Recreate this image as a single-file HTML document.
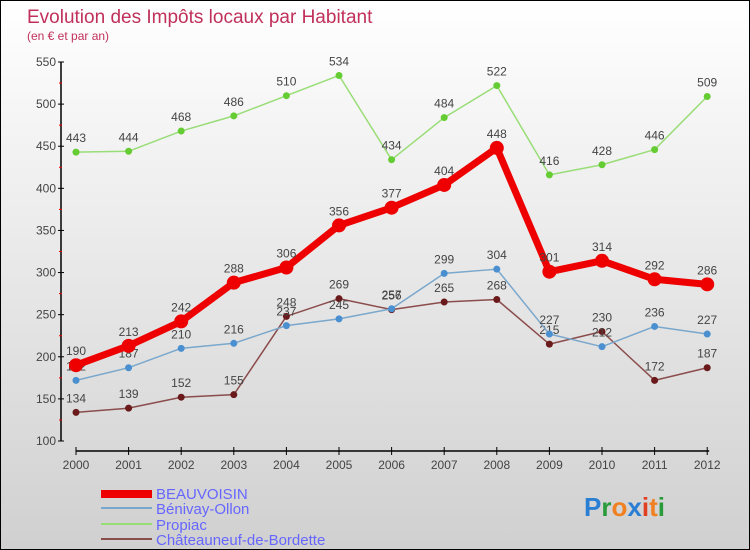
<!DOCTYPE html>
<html><head><meta charset="utf-8"><style>
body{margin:0}
#c{width:748px;height:548px;border:1px solid #000;background:linear-gradient(#fff,#d0d0d0);position:relative;font-family:"Liberation Sans",sans-serif;overflow:hidden}
</style></head><body>
<div id="c">
<svg id="s" width="748" height="548">
<text x="26" y="22" font-size="19" fill="#c0305a">Evolution des Impôts locaux par Habitant</text>
<text x="26" y="39" font-size="12" fill="#c0305a">(en € et par an)</text>
<g id="ax"></g><g id="ser"></g>
<g>
<rect x="100" y="489" width="51" height="8" fill="#e00"/>
<text x="155" y="498" font-size="15" fill="#6666ff">BEAUVOISIN</text>
<rect x="100" y="506" width="51" height="2" fill="#7aa7cc"/>
<text x="155" y="513" font-size="15" fill="#6666ff">Bénivay-Ollon</text>
<rect x="100" y="522" width="51" height="2" fill="#99dd77"/>
<text x="155" y="529" font-size="15" fill="#6666ff">Propiac</text>
<rect x="100" y="537" width="51" height="2" fill="#8b4c4c"/>
<text x="155" y="544" font-size="15" fill="#6666ff">Châteauneuf-de-Bordette</text>
</g>
<text x="583" y="515" font-size="26" font-weight="bold"><tspan fill="#2a7fd4">P</tspan><tspan fill="#2a9a3a">r</tspan><tspan fill="#f08020">o</tspan><tspan fill="#2a7fd4">x</tspan><tspan fill="#e04020">i</tspan><tspan fill="#f08020">t</tspan><tspan fill="#2a9a3a">i</tspan></text>
</svg></div>
<script>
const years=["2000","2001","2002","2003","2004","2005","2006","2007","2008","2009","2010","2011","2012"];
const yTicks=[100,150,200,250,300,350,400,450,500,550];
const beauvoisin=[190,213,242,288,306,356,377,404,448,301,314,292,286];
const benivay=[172,187,210,216,237,245,257,299,304,227,212,236,227];
const propiac=[443,444,468,486,510,534,434,484,522,416,428,446,509];
const chateau=[134,139,152,155,248,269,256,265,268,215,230,172,187];
const NS="http://www.w3.org/2000/svg";
function X(i){return 75+i*52.6;}
function Y(v){return 440-(v-100)*(379/450);}
function mk(t,a,p){const e=document.createElementNS(NS,t);for(const k in a)e.setAttribute(k,a[k]);p.appendChild(e);return e;}
const ax=document.getElementById('ax'),ser=document.getElementById('ser');
const yl=mk('line',{x1:60,y1:Y(550),x2:60,y2:Y(100),stroke:'#000','stroke-width':1.5},ax);


yTicks.forEach((v,i)=>{
 mk('line',{x1:57,y1:Y(v),x2:63,y2:Y(v),stroke:'#000'},ax);
 if(i<yTicks.length-1) mk('line',{x1:58,y1:Y(v+25),x2:61,y2:Y(v+25),stroke:'#e00'},ax);
 const t=mk('text',{x:55,y:Y(v)+4,'font-size':12,fill:'#444','text-anchor':'end'},ax);t.textContent=v;
 
 
});
const xl=mk('line',{x1:X(0),y1:450,x2:X(12)+2,y2:450,stroke:'#000','stroke-width':1.5},ax);


years.forEach((y,i)=>{
 mk('line',{x1:X(i),y1:446,x2:X(i),y2:454,stroke:'#000'},ax);
 const t=mk('text',{x:X(i),y:468,'font-size':12,fill:'#444','text-anchor':'middle'},ax);t.textContent=y;
 
 
});
function series(data,name,col,dot,w,r,lab){
 const g=mk('g',{},ser);
 
 
 mk('polyline',{points:data.map((v,i)=>X(i)+','+Y(v)).join(' '),fill:'none',stroke:col,'stroke-width':w,'stroke-linejoin':'round'},g);
 data.forEach((v,i)=>{
  const c=mk('circle',{cx:X(i),cy:Y(v),r:r,fill:dot},g);
  
  
  const t=mk('text',{x:X(i),y:Y(v)-10,'font-size':12,fill:'#444','text-anchor':'middle'},g);t.textContent=v;
  
  
 });
}
series(chateau,'chateauneuf','#8b4c4c','#6a1a1a',1.5,3.5);
series(benivay,'benivay','#7aa7cc','#4a90d0',1.5,3.5);
series(propiac,'propiac','#99dd77','#66cc33',1.5,3.5);
series(beauvoisin,'beauvoisin','#ee0000','#ee0000',7,7);
</script>
</body></html>
